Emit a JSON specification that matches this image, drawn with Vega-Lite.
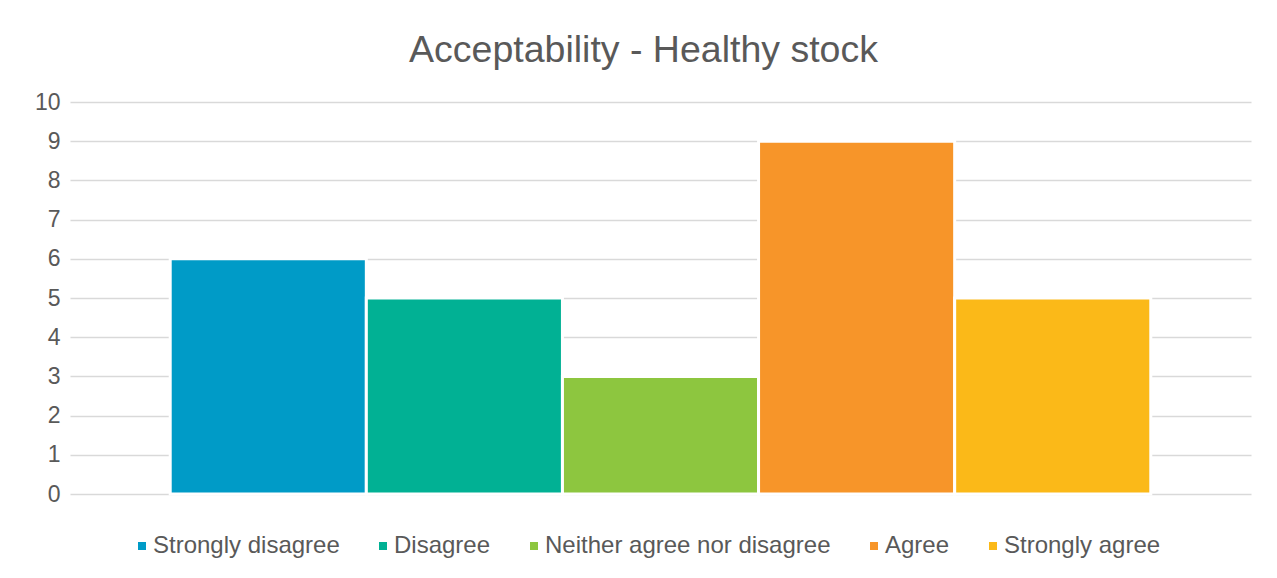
{
  "$schema": "https://vega.github.io/schema/vega-lite/v6.json",
  "autosize": "none",
  "width": 1181,
  "height": 392,
  "padding": {"left": 70, "top": 102, "right": 26, "bottom": 84},
  "background": "white",
  "title": {
    "text": "Acceptability - Healthy stock",
    "anchor": "middle",
    "font": "Liberation Sans",
    "fontSize": 37.5,
    "fontWeight": "normal",
    "color": "#595959",
    "offset": 22,
    "dx": -17
  },
  "data": {
    "values": [
      {"response": "Strongly disagree", "count": 6},
      {"response": "Disagree", "count": 5},
      {"response": "Neither agree nor disagree", "count": 3},
      {"response": "Agree", "count": 9},
      {"response": "Strongly agree", "count": 5}
    ]
  },
  "mark": {"type": "bar", "stroke": "white", "strokeWidth": 3},
  "encoding": {
    "x": {
      "field": "response",
      "type": "nominal",
      "sort": null,
      "axis": null,
      "scale": {"paddingInner": 0, "paddingOuter": 0.511}
    },
    "y": {
      "field": "count",
      "type": "quantitative",
      "scale": {"domain": [0, 10], "nice": false},
      "axis": {
        "title": null,
        "values": [0, 1, 2, 3, 4, 5, 6, 7, 8, 9, 10],
        "labelOverlap": false,
        "domain": false,
        "ticks": false,
        "labelPadding": 10,
        "labelFont": "Liberation Sans",
        "labelFontSize": 23,
        "labelColor": "#595959",
        "gridColor": "#d9d9d9",
        "gridWidth": 1.5
      }
    },
    "color": {
      "field": "response",
      "type": "nominal",
      "sort": null,
      "scale": {
        "domain": ["Strongly disagree", "Disagree", "Neither agree nor disagree", "Agree", "Strongly agree"],
        "range": ["#009bc7", "#01b194", "#8dc63f", "#f79529", "#fbb918"]
      },
      "legend": {
        "title": null,
        "orient": "none",
        "legendX": 60,
        "legendY": 432,
        "direction": "horizontal",
        "symbolType": "square",
        "symbolSize": 64,
        "symbolStrokeWidth": 0,
        "labelFont": "Liberation Sans",
        "labelFontSize": 24,
        "labelColor": "#595959",
        "labelOffset": -1,
        "columnPadding": 31,
        "labelLimit": 400
      }
    }
  },
  "config": {
    "view": {"stroke": null}
  }
}
